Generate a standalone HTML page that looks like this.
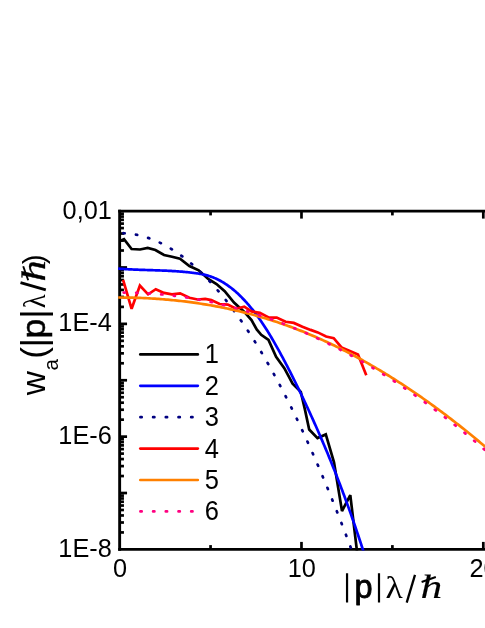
<!DOCTYPE html>
<html><head><meta charset="utf-8"><title>plot</title>
<style>html,body{margin:0;padding:0;background:#fff}svg{display:block;will-change:transform;transform:translateZ(0)}text{font-family:"Liberation Sans",sans-serif;fill:#000}.s{font-family:"Liberation Serif",serif}</style></head><body>
<svg width="485" height="628" viewBox="0 0 485 628">
<rect width="485" height="628" fill="#fff"/>
<defs><clipPath id="c"><rect x="118.2" y="209.79999999999998" width="400" height="340.79999999999995"/></clipPath></defs>
<g stroke="#000" stroke-width="2.7" fill="none" stroke-linecap="butt">
<path d="M119.65,550.75 V209.75" stroke-width="2.9"/>
<path d="M118.2,211.1 H485"/>
<path d="M118.2,549.4 H485"/>
<path d="M301.48,549.4 v-7.5"/><path d="M301.48,211.1 v7.5"/>
<path d="M483.30,549.4 v-7.5"/><path d="M483.30,211.1 v7.5"/>
<path d="M210.56,549.4 v-4.3"/><path d="M210.56,211.1 v4.3"/>
<path d="M392.39,549.4 v-4.3"/><path d="M392.39,211.1 v4.3"/>
<path d="M119.65,250.51 h4.3"/>
<path d="M119.65,240.58 h4.3"/>
<path d="M119.65,233.54 h4.3"/>
<path d="M119.65,228.07 h4.3"/>
<path d="M119.65,223.61 h4.3"/>
<path d="M119.65,219.83 h4.3"/>
<path d="M119.65,216.56 h4.3"/>
<path d="M119.65,213.68 h4.3"/>
<path d="M119.65,267.48 h7.4"/>
<path d="M119.65,306.89 h4.3"/>
<path d="M119.65,296.96 h4.3"/>
<path d="M119.65,289.92 h4.3"/>
<path d="M119.65,284.46 h4.3"/>
<path d="M119.65,279.99 h4.3"/>
<path d="M119.65,276.22 h4.3"/>
<path d="M119.65,272.95 h4.3"/>
<path d="M119.65,270.06 h4.3"/>
<path d="M119.65,323.87 h7.4"/>
<path d="M119.65,363.28 h4.3"/>
<path d="M119.65,353.35 h4.3"/>
<path d="M119.65,346.30 h4.3"/>
<path d="M119.65,340.84 h4.3"/>
<path d="M119.65,336.38 h4.3"/>
<path d="M119.65,332.60 h4.3"/>
<path d="M119.65,329.33 h4.3"/>
<path d="M119.65,326.45 h4.3"/>
<path d="M119.65,380.25 h7.4"/>
<path d="M119.65,419.66 h4.3"/>
<path d="M119.65,409.73 h4.3"/>
<path d="M119.65,402.69 h4.3"/>
<path d="M119.65,397.22 h4.3"/>
<path d="M119.65,392.76 h4.3"/>
<path d="M119.65,388.98 h4.3"/>
<path d="M119.65,385.71 h4.3"/>
<path d="M119.65,382.83 h4.3"/>
<path d="M119.65,436.63 h7.4"/>
<path d="M119.65,476.04 h4.3"/>
<path d="M119.65,466.11 h4.3"/>
<path d="M119.65,459.07 h4.3"/>
<path d="M119.65,453.61 h4.3"/>
<path d="M119.65,449.14 h4.3"/>
<path d="M119.65,445.37 h4.3"/>
<path d="M119.65,442.10 h4.3"/>
<path d="M119.65,439.21 h4.3"/>
<path d="M119.65,493.02 h7.4"/>
<path d="M119.65,532.43 h4.3"/>
<path d="M119.65,522.50 h4.3"/>
<path d="M119.65,515.45 h4.3"/>
<path d="M119.65,509.99 h4.3"/>
<path d="M119.65,505.53 h4.3"/>
<path d="M119.65,501.75 h4.3"/>
<path d="M119.65,498.48 h4.3"/>
<path d="M119.65,495.60 h4.3"/>
</g>
<g clip-path="url(#c)" fill="none" stroke-linejoin="miter" stroke-miterlimit="3">
<path d="M120,241 L124,239.2 L131.6,249 L140,249.5 L147.7,248 L155.4,250 L164,255 L172,256.7 L180,258.8 L189.4,266 L198.7,270.3 L208.2,278.9 L216.5,284 L224.7,291.2 L234,302.6 L244.3,311.9 L251.5,320.1 L256.7,329.4 L261.2,334.8 L268.5,340 L276.1,356.8 L284.3,368.1 L292.6,383.6 L300.8,391.9 L304.9,409.4 L309.2,429.5 L317.5,438.1 L325.8,434.4 L334,462.3 L342,511 L350.3,495.2 L357.2,553" stroke="#000" stroke-width="2.7"/>
<path d="M118.00,268.59 L118.99,268.67 L119.98,268.74 L120.96,268.82 L121.95,268.89 L122.94,268.96 L123.93,269.02 L124.92,269.08 L125.90,269.14 L126.89,269.20 L127.88,269.26 L128.87,269.31 L129.86,269.36 L130.84,269.41 L131.83,269.46 L132.82,269.50 L133.81,269.55 L134.80,269.59 L135.78,269.63 L136.77,269.67 L137.76,269.71 L138.75,269.75 L139.73,269.79 L140.72,269.82 L141.71,269.86 L142.70,269.89 L143.69,269.92 L144.67,269.96 L145.66,269.99 L146.65,270.02 L147.64,270.05 L148.63,270.08 L149.61,270.11 L150.60,270.15 L151.59,270.18 L152.58,270.21 L153.57,270.24 L154.55,270.27 L155.54,270.31 L156.53,270.34 L157.52,270.37 L158.51,270.41 L159.49,270.44 L160.48,270.48 L161.47,270.52 L162.46,270.56 L163.45,270.60 L164.43,270.64 L165.42,270.68 L166.41,270.72 L167.40,270.77 L168.39,270.82 L169.37,270.87 L170.36,270.92 L171.35,270.97 L172.34,271.03 L173.33,271.08 L174.31,271.14 L175.30,271.20 L176.29,271.27 L177.28,271.34 L178.27,271.41 L179.25,271.48 L180.24,271.55 L181.23,271.63 L182.22,271.71 L183.20,271.80 L184.19,271.89 L185.18,271.98 L186.17,272.07 L187.16,272.17 L188.14,272.27 L189.13,272.38 L190.12,272.49 L191.11,272.60 L192.10,272.72 L193.08,272.84 L194.07,272.97 L195.06,273.10 L196.05,273.23 L197.04,273.38 L198.02,273.53 L199.01,273.69 L200.00,273.86 L200.99,274.04 L201.98,274.24 L202.96,274.44 L203.95,274.66 L204.94,274.89 L205.93,275.13 L206.92,275.40 L207.90,275.67 L208.89,275.97 L209.88,276.28 L210.87,276.61 L211.86,276.96 L212.84,277.32 L213.83,277.71 L214.82,278.12 L215.81,278.56 L216.80,279.01 L217.78,279.48 L218.77,279.97 L219.76,280.49 L220.75,281.02 L221.73,281.58 L222.72,282.16 L223.71,282.76 L224.70,283.38 L225.69,284.02 L226.67,284.68 L227.66,285.36 L228.65,286.07 L229.64,286.79 L230.63,287.54 L231.61,288.31 L232.60,289.10 L233.59,289.91 L234.58,290.74 L235.57,291.59 L236.55,292.47 L237.54,293.37 L238.53,294.29 L239.52,295.23 L240.51,296.19 L241.49,297.17 L242.48,298.18 L243.47,299.21 L244.46,300.26 L245.45,301.33 L246.43,302.43 L247.42,303.54 L248.41,304.68 L249.40,305.84 L250.39,307.02 L251.37,308.23 L252.36,309.46 L253.35,310.71 L254.34,311.98 L255.33,313.27 L256.31,314.59 L257.30,315.93 L258.29,317.29 L259.28,318.67 L260.27,320.08 L261.25,321.51 L262.24,322.96 L263.23,324.44 L264.22,325.93 L265.20,327.45 L266.19,329.00 L267.18,330.56 L268.17,332.15 L269.16,333.76 L270.14,335.39 L271.13,337.04 L272.12,338.72 L273.11,340.41 L274.10,342.11 L275.08,343.84 L276.07,345.58 L277.06,347.34 L278.05,349.12 L279.04,350.91 L280.02,352.71 L281.01,354.53 L282.00,356.36 L282.99,358.20 L283.98,360.06 L284.96,361.92 L285.95,363.80 L286.94,365.70 L287.93,367.60 L288.92,369.52 L289.90,371.45 L290.89,373.39 L291.88,375.34 L292.87,377.31 L293.86,379.28 L294.84,381.27 L295.83,383.27 L296.82,385.28 L297.81,387.30 L298.80,389.33 L299.78,391.38 L300.77,393.43 L301.76,395.50 L302.75,397.58 L303.73,399.67 L304.72,401.76 L305.71,403.87 L306.70,405.99 L307.69,408.12 L308.67,410.27 L309.66,412.42 L310.65,414.58 L311.64,416.75 L312.63,418.93 L313.61,421.12 L314.60,423.33 L315.59,425.54 L316.58,427.77 L317.57,430.01 L318.55,432.26 L319.54,434.52 L320.53,436.80 L321.52,439.09 L322.51,441.39 L323.49,443.70 L324.48,446.03 L325.47,448.37 L326.46,450.73 L327.45,453.10 L328.43,455.49 L329.42,457.88 L330.41,460.30 L331.40,462.73 L332.39,465.17 L333.37,467.64 L334.36,470.11 L335.35,472.61 L336.34,475.12 L337.33,477.64 L338.31,480.19 L339.30,482.75 L340.29,485.33 L341.28,487.92 L342.27,490.54 L343.25,493.17 L344.24,495.82 L345.23,498.49 L346.22,501.18 L347.20,503.88 L348.19,506.61 L349.18,509.36 L350.17,512.12 L351.16,514.91 L352.14,517.72 L353.13,520.55 L354.12,523.40 L355.11,526.27 L356.10,529.16 L357.08,532.07 L358.07,535.01 L359.06,537.97 L360.05,540.95 L361.04,543.95 L362.02,546.97 L363.01,550.02 L364.00,553.10" stroke="#0000ff" stroke-width="2.7"/>
<path d="M122.60,233.20 L123.37,233.22 L124.14,233.26 L124.91,233.30 L125.68,233.35 L126.44,233.40 L127.21,233.46 L127.98,233.53 L128.75,233.61 L129.52,233.69 L130.29,233.78 L131.06,233.88 L131.83,233.99 L132.60,234.10 L133.36,234.22 L134.13,234.35 L134.90,234.48 L135.67,234.62 L136.44,234.77 L137.21,234.92 L137.98,235.09 L138.75,235.26 L139.52,235.43 L140.28,235.62 L141.05,235.81 L141.82,236.00 L142.59,236.21 L143.36,236.42 L144.13,236.64 L144.90,236.87 L145.67,237.10 L146.44,237.34 L147.20,237.59 L147.97,237.84 L148.74,238.11 L149.51,238.38 L150.28,238.65 L151.05,238.93 L151.82,239.22 L152.59,239.52 L153.36,239.83 L154.12,240.14 L154.89,240.46 L155.66,240.78 L156.43,241.12 L157.20,241.46 L157.97,241.80 L158.74,242.16 L159.51,242.52 L160.28,242.89 L161.04,243.26 L161.81,243.64 L162.58,244.03 L163.35,244.43 L164.12,244.83 L164.89,245.25 L165.66,245.66 L166.43,246.09 L167.20,246.52 L167.96,246.96 L168.73,247.41 L169.50,247.86 L170.27,248.32 L171.04,248.79 L171.81,249.26 L172.58,249.74 L173.35,250.23 L174.12,250.73 L174.88,251.23 L175.65,251.74 L176.42,252.25 L177.19,252.78 L177.96,253.31 L178.73,253.85 L179.50,254.39 L180.27,254.94 L181.04,255.50 L181.81,256.07 L182.57,256.64 L183.34,257.22 L184.11,257.81 L184.88,258.40 L185.65,259.00 L186.42,259.61 L187.19,260.23 L187.96,260.85 L188.73,261.48 L189.49,262.11 L190.26,262.76 L191.03,263.41 L191.80,264.06 L192.57,264.73 L193.34,265.40 L194.11,266.08 L194.88,266.76 L195.65,267.45 L196.41,268.15 L197.18,268.86 L197.95,269.57 L198.72,270.29 L199.49,271.02 L200.26,271.75 L201.03,272.49 L201.80,273.24 L202.57,274.00 L203.33,274.76 L204.10,275.53 L204.87,276.30 L205.64,277.09 L206.41,277.88 L207.18,278.67 L207.95,279.48 L208.72,280.29 L209.49,281.10 L210.25,281.93 L211.02,282.76 L211.79,283.60 L212.56,284.45 L213.33,285.30 L214.10,286.16 L214.87,287.02 L215.64,287.90 L216.41,288.78 L217.17,289.66 L217.94,290.56 L218.71,291.46 L219.48,292.37 L220.25,293.28 L221.02,294.20 L221.79,295.13 L222.56,296.07 L223.33,297.01 L224.09,297.96 L224.86,298.92 L225.63,299.88 L226.40,300.85 L227.17,301.83 L227.94,302.81 L228.71,303.81 L229.48,304.80 L230.25,305.81 L231.01,306.82 L231.78,307.84 L232.55,308.87 L233.32,309.90 L234.09,310.94 L234.86,311.98 L235.63,313.04 L236.40,314.10 L237.17,315.17 L237.93,316.24 L238.70,317.32 L239.47,318.41 L240.24,319.50 L241.01,320.60 L241.78,321.71 L242.55,322.83 L243.32,323.95 L244.09,325.08 L244.85,326.22 L245.62,327.36 L246.39,328.51 L247.16,329.67 L247.93,330.83 L248.70,332.00 L249.47,333.18 L250.24,334.36 L251.01,335.55 L251.77,336.75 L252.54,337.96 L253.31,339.17 L254.08,340.39 L254.85,341.61 L255.62,342.84 L256.39,344.08 L257.16,345.33 L257.93,346.58 L258.69,347.84 L259.46,349.11 L260.23,350.38 L261.00,351.66 L261.77,352.95 L262.54,354.24 L263.31,355.54 L264.08,356.85 L264.85,358.16 L265.61,359.49 L266.38,360.81 L267.15,362.15 L267.92,363.49 L268.69,364.84 L269.46,366.19 L270.23,367.56 L271.00,368.93 L271.77,370.30 L272.53,371.68 L273.30,373.07 L274.07,374.47 L274.84,375.87 L275.61,377.28 L276.38,378.70 L277.15,380.12 L277.92,381.55 L278.69,382.99 L279.45,384.43 L280.22,385.88 L280.99,387.34 L281.76,388.81 L282.53,390.28 L283.30,391.75 L284.07,393.24 L284.84,394.73 L285.61,396.23 L286.37,397.73 L287.14,399.25 L287.91,400.76 L288.68,402.29 L289.45,403.82 L290.22,405.36 L290.99,406.91 L291.76,408.46 L292.53,410.02 L293.29,411.58 L294.06,413.16 L294.83,414.74 L295.60,416.32 L296.37,417.92 L297.14,419.52 L297.91,421.12 L298.68,422.73 L299.45,424.35 L300.22,425.98 L300.98,427.62 L301.75,429.26 L302.52,430.90 L303.29,432.56 L304.06,434.22 L304.83,435.88 L305.60,437.56 L306.37,439.24 L307.14,440.93 L307.90,442.62 L308.67,444.32 L309.44,446.03 L310.21,447.74 L310.98,449.46 L311.75,451.19 L312.52,452.93 L313.29,454.67 L314.06,456.42 L314.82,458.17 L315.59,459.93 L316.36,461.70 L317.13,463.47 L317.90,465.26 L318.67,467.04 L319.44,468.84 L320.21,470.64 L320.98,472.45 L321.74,474.26 L322.51,476.09 L323.28,477.91 L324.05,479.75 L324.82,481.59 L325.59,483.44 L326.36,485.29 L327.13,487.16 L327.90,489.03 L328.66,490.90 L329.43,492.78 L330.20,494.67 L330.97,496.57 L331.74,498.47 L332.51,500.38 L333.28,502.29 L334.05,504.21 L334.82,506.14 L335.58,508.08 L336.35,510.02 L337.12,511.97 L337.89,513.92 L338.66,515.89 L339.43,517.85 L340.20,519.83 L340.97,521.81 L341.74,523.80 L342.50,525.80 L343.27,527.80 L344.04,529.81 L344.81,531.82 L345.58,533.84 L346.35,535.87 L347.12,537.91 L347.89,539.95 L348.66,542.00 L349.42,544.05 L350.19,546.11 L350.96,548.18 L351.73,550.26 L352.50,552.34" stroke="#000080" stroke-width="2.7" stroke-linecap="round" stroke-dasharray="1.30 11.30" stroke-dashoffset="-0.81"/>
<path d="M123.1,279.9 L131.6,308.8 L139.9,285.5 L148.1,294.3 L155.8,289.2 L164,292.9 L171.9,294.3 L180.1,293.3 L189.4,297.8 L197.6,299.5 L205.2,298.9 L211.3,300.1 L219.6,304 L227.8,304.6 L236.1,308.8 L244.3,306.7 L251.5,311.4 L259.8,312.9 L269.1,317.6 L276.7,317.6 L285.6,321.8 L293.8,322.9 L302.4,326.8 L310.6,329.9 L317.8,332.4 L326.1,336.5 L333.7,338.1 L341.5,347.4 L349.8,351.1 L358,354.6 L366.3,375.3" stroke="#ff0000" stroke-width="2.7"/>
<path d="M118.00,297.50 L119.85,297.51 L121.70,297.52 L123.55,297.53 L125.40,297.56 L127.25,297.58 L129.10,297.62 L130.94,297.66 L132.79,297.70 L134.64,297.75 L136.49,297.81 L138.34,297.87 L140.19,297.94 L142.04,298.01 L143.89,298.09 L145.74,298.18 L147.59,298.27 L149.44,298.37 L151.29,298.48 L153.14,298.59 L154.98,298.70 L156.83,298.83 L158.68,298.96 L160.53,299.09 L162.38,299.23 L164.23,299.38 L166.08,299.54 L167.93,299.70 L169.78,299.87 L171.63,300.04 L173.48,300.22 L175.33,300.41 L177.18,300.60 L179.03,300.80 L180.87,301.01 L182.72,301.23 L184.57,301.45 L186.42,301.68 L188.27,301.91 L190.12,302.15 L191.97,302.40 L193.82,302.66 L195.67,302.92 L197.52,303.19 L199.37,303.47 L201.22,303.75 L203.07,304.05 L204.91,304.35 L206.76,304.65 L208.61,304.97 L210.46,305.29 L212.31,305.62 L214.16,305.95 L216.01,306.30 L217.86,306.65 L219.71,307.01 L221.56,307.37 L223.41,307.75 L225.26,308.13 L227.11,308.52 L228.95,308.91 L230.80,309.32 L232.65,309.73 L234.50,310.15 L236.35,310.58 L238.20,311.02 L240.05,311.46 L241.90,311.91 L243.75,312.37 L245.60,312.84 L247.45,313.32 L249.30,313.81 L251.15,314.30 L252.99,314.80 L254.84,315.31 L256.69,315.83 L258.54,316.36 L260.39,316.89 L262.24,317.43 L264.09,317.99 L265.94,318.55 L267.79,319.12 L269.64,319.69 L271.49,320.28 L273.34,320.88 L275.19,321.48 L277.04,322.09 L278.88,322.71 L280.73,323.35 L282.58,323.98 L284.43,324.63 L286.28,325.29 L288.13,325.96 L289.98,326.63 L291.83,327.32 L293.68,328.01 L295.53,328.71 L297.38,329.42 L299.23,330.15 L301.08,330.88 L302.92,331.62 L304.77,332.36 L306.62,333.12 L308.47,333.89 L310.32,334.67 L312.17,335.45 L314.02,336.25 L315.87,337.05 L317.72,337.87 L319.57,338.69 L321.42,339.52 L323.27,340.36 L325.12,341.21 L326.96,342.07 L328.81,342.93 L330.66,343.81 L332.51,344.70 L334.36,345.59 L336.21,346.49 L338.06,347.40 L339.91,348.33 L341.76,349.25 L343.61,350.19 L345.46,351.14 L347.31,352.09 L349.16,353.06 L351.01,354.03 L352.85,355.01 L354.70,356.00 L356.55,357.00 L358.40,358.01 L360.25,359.03 L362.10,360.05 L363.95,361.08 L365.80,362.12 L367.65,363.17 L369.50,364.23 L371.35,365.30 L373.20,366.37 L375.05,367.46 L376.89,368.55 L378.74,369.65 L380.59,370.76 L382.44,371.87 L384.29,373.00 L386.14,374.13 L387.99,375.27 L389.84,376.42 L391.69,377.58 L393.54,378.74 L395.39,379.91 L397.24,381.10 L399.09,382.29 L400.93,383.48 L402.78,384.69 L404.63,385.90 L406.48,387.13 L408.33,388.36 L410.18,389.59 L412.03,390.84 L413.88,392.10 L415.73,393.36 L417.58,394.63 L419.43,395.91 L421.28,397.20 L423.13,398.49 L424.97,399.79 L426.82,401.11 L428.67,402.43 L430.52,403.75 L432.37,405.09 L434.22,406.43 L436.07,407.79 L437.92,409.15 L439.77,410.51 L441.62,411.89 L443.47,413.28 L445.32,414.67 L447.17,416.07 L449.02,417.48 L450.86,418.90 L452.71,420.32 L454.56,421.76 L456.41,423.20 L458.26,424.65 L460.11,426.10 L461.96,427.57 L463.81,429.05 L465.66,430.53 L467.51,432.02 L469.36,433.52 L471.21,435.02 L473.06,436.54 L474.90,438.06 L476.75,439.59 L478.60,441.13 L480.45,442.68 L482.30,444.23 L484.15,445.80 L486.00,447.37" stroke="#ff8000" stroke-width="2.7"/>
<path d="M120.50,292.56 L121.72,292.56 L122.94,292.56 L124.17,292.56 L125.39,292.57 L126.61,292.58 L127.83,292.59 L129.06,292.61 L130.28,292.63 L131.50,292.66 L132.72,292.69 L133.95,292.72 L135.17,292.76 L136.39,292.80 L137.61,292.84 L138.84,292.89 L140.06,292.94 L141.28,292.99 L142.50,293.05 L143.73,293.11 L144.95,293.17 L146.17,293.24 L147.39,293.32 L148.62,293.39 L149.84,293.47 L151.06,293.55 L152.28,293.64 L153.51,293.73 L154.73,293.83 L155.95,293.92 L157.17,294.02 L158.39,294.13 L159.62,294.24 L160.84,294.35 L162.06,294.46 L163.28,294.58 L164.51,294.71 L165.73,294.83 L166.95,294.96 L168.17,295.10 L169.40,295.23 L170.62,295.37 L171.84,295.52 L173.06,295.67 L174.29,295.82 L175.51,295.97 L176.73,296.13 L177.95,296.30 L179.18,296.46 L180.40,296.63 L181.62,296.80 L182.84,296.98 L184.07,297.16 L185.29,297.35 L186.51,297.53 L187.73,297.72 L188.95,297.92 L190.18,298.12 L191.40,298.32 L192.62,298.53 L193.84,298.73 L195.07,298.95 L196.29,299.16 L197.51,299.38 L198.73,299.61 L199.96,299.83 L201.18,300.07 L202.40,300.30 L203.62,300.54 L204.85,300.78 L206.07,301.02 L207.29,301.27 L208.51,301.53 L209.74,301.78 L210.96,302.04 L212.18,302.30 L213.40,302.57 L214.63,302.84 L215.85,303.11 L217.07,303.39 L218.29,303.67 L219.52,303.96 L220.74,304.25 L221.96,304.54 L223.18,304.83 L224.40,305.13 L225.63,305.43 L226.85,305.74 L228.07,306.05 L229.29,306.36 L230.52,306.68 L231.74,307.00 L232.96,307.33 L234.18,307.65 L235.41,307.98 L236.63,308.32 L237.85,308.66 L239.07,309.00 L240.30,309.34 L241.52,309.69 L242.74,310.05 L243.96,310.40 L245.19,310.76 L246.41,311.13 L247.63,311.49 L248.85,311.86 L250.08,312.24 L251.30,312.62 L252.52,313.00 L253.74,313.38 L254.96,313.77 L256.19,314.16 L257.41,314.56 L258.63,314.96 L259.85,315.36 L261.08,315.77 L262.30,316.18 L263.52,316.59 L264.74,317.01 L265.97,317.43 L267.19,317.85 L268.41,318.28 L269.63,318.71 L270.86,319.14 L272.08,319.58 L273.30,320.03 L274.52,320.47 L275.75,320.92 L276.97,321.37 L278.19,321.83 L279.41,322.29 L280.64,322.75 L281.86,323.22 L283.08,323.69 L284.30,324.16 L285.53,324.64 L286.75,325.12 L287.97,325.61 L289.19,326.10 L290.41,326.59 L291.64,327.08 L292.86,327.58 L294.08,328.09 L295.30,328.59 L296.53,329.10 L297.75,329.61 L298.97,330.13 L300.19,330.65 L301.42,331.18 L302.64,331.70 L303.86,332.23 L305.08,332.77 L306.31,333.31 L307.53,333.85 L308.75,334.39 L309.97,334.94 L311.20,335.50 L312.42,336.05 L313.64,336.61 L314.86,337.17 L316.09,337.74 L317.31,338.31 L318.53,338.88 L319.75,339.46 L320.97,340.04 L322.20,340.63 L323.42,341.21 L324.64,341.81 L325.86,342.40 L327.09,343.00 L328.31,343.60 L329.53,344.21 L330.75,344.82 L331.98,345.43 L333.20,346.05 L334.42,346.67 L335.64,347.29 L336.87,347.92 L338.09,348.55 L339.31,349.18 L340.53,349.82 L341.76,350.46 L342.98,351.10 L344.20,351.75 L345.42,352.40 L346.65,353.06 L347.87,353.72 L349.09,354.38 L350.31,355.05 L351.54,355.72 L352.76,356.39 L353.98,357.07 L355.20,357.75 L356.42,358.43 L357.65,359.12 L358.87,359.81 L360.09,360.50 L361.31,361.20 L362.54,361.90 L363.76,362.61 L364.98,363.31 L366.20,364.03 L367.43,364.74 L368.65,365.46 L369.87,366.18 L371.09,366.91 L372.32,367.64 L373.54,368.37 L374.76,369.11 L375.98,369.85 L377.21,370.59 L378.43,371.34 L379.65,372.09 L380.87,372.85 L382.10,373.60 L383.32,374.36 L384.54,375.13 L385.76,375.90 L386.98,376.67 L388.21,377.45 L389.43,378.22 L390.65,379.01 L391.87,379.79 L393.10,380.58 L394.32,381.38 L395.54,382.17 L396.76,382.97 L397.99,383.78 L399.21,384.58 L400.43,385.39 L401.65,386.21 L402.88,387.03 L404.10,387.85 L405.32,388.67 L406.54,389.50 L407.77,390.33 L408.99,391.17 L410.21,392.01 L411.43,392.85 L412.66,393.70 L413.88,394.55 L415.10,395.40 L416.32,396.26 L417.55,397.12 L418.77,397.98 L419.99,398.85 L421.21,399.72 L422.43,400.59 L423.66,401.47 L424.88,402.35 L426.10,403.23 L427.32,404.12 L428.55,405.01 L429.77,405.91 L430.99,406.81 L432.21,407.71 L433.44,408.62 L434.66,409.53 L435.88,410.44 L437.10,411.35 L438.33,412.27 L439.55,413.20 L440.77,414.12 L441.99,415.05 L443.22,415.99 L444.44,416.93 L445.66,417.87 L446.88,418.81 L448.11,419.76 L449.33,420.71 L450.55,421.67 L451.77,422.62 L452.99,423.59 L454.22,424.55 L455.44,425.52 L456.66,426.49 L457.88,427.47 L459.11,428.45 L460.33,429.43 L461.55,430.42 L462.77,431.41 L464.00,432.40 L465.22,433.40 L466.44,434.40 L467.66,435.40 L468.89,436.41 L470.11,437.42 L471.33,438.43 L472.55,439.45 L473.78,440.47 L475.00,441.50 L476.22,442.53 L477.44,443.56 L478.67,444.59 L479.89,445.63 L481.11,446.68 L482.33,447.72 L483.56,448.77 L484.78,449.82 L486.00,450.88" stroke="#ff0080" stroke-width="2.7" stroke-linecap="round" stroke-dasharray="1.30 11.23" stroke-dashoffset="-3.14"/>
</g>
<text transform="translate(111.8,218.6) scale(1,1.05)" font-size="25.3" text-anchor="end">0,01</text>
<text transform="translate(111.8,331.4) scale(1,1.05)" font-size="25.3" text-anchor="end">1E-4</text>
<text transform="translate(111.8,444.1) scale(1,1.05)" font-size="25.3" text-anchor="end">1E-6</text>
<text transform="translate(111.8,556.9) scale(1,1.05)" font-size="25.3" text-anchor="end">1E-8</text>
<text transform="translate(120.0,577.2) scale(1,1.05)" font-size="25.3" text-anchor="middle">0</text>
<text transform="translate(301.8,577.2) scale(1,1.05)" font-size="25.3" text-anchor="middle">10</text>
<text transform="translate(483.6,577.2) scale(1,1.05)" font-size="25.3" text-anchor="middle">20</text>
<path d="M140.3,354.4 H197.8" stroke="#000" stroke-width="2.7" stroke-linecap="round" fill="none"/>
<text transform="translate(204.7,363.4) scale(1,1.05)" font-size="25.5">1</text>
<path d="M140.3,385.8 H197.8" stroke="#0000ff" stroke-width="2.7" stroke-linecap="round" fill="none"/>
<text transform="translate(204.7,394.8) scale(1,1.05)" font-size="25.5">2</text>
<path d="M140.3,417.2 H197.8" stroke="#000080" stroke-width="2.7" stroke-linecap="round" fill="none" stroke-dasharray="1.3 11.4" stroke-dashoffset="-0.1"/>
<text transform="translate(204.7,426.2) scale(1,1.05)" font-size="25.5">3</text>
<path d="M140.3,448.6 H197.8" stroke="#ff0000" stroke-width="2.7" stroke-linecap="round" fill="none"/>
<text transform="translate(204.7,457.6) scale(1,1.05)" font-size="25.5">4</text>
<path d="M140.3,480.0 H197.8" stroke="#ff8000" stroke-width="2.7" stroke-linecap="round" fill="none"/>
<text transform="translate(204.7,489.0) scale(1,1.05)" font-size="25.5">5</text>
<path d="M140.3,511.4 H197.8" stroke="#ff0080" stroke-width="2.7" stroke-linecap="round" fill="none" stroke-dasharray="1.3 11.4" stroke-dashoffset="-0.1"/>
<text transform="translate(204.7,520.4) scale(1,1.05)" font-size="25.5">6</text>
<path d="M347.05,573.2 V602.6 M379,573.2 V602.6" stroke="#000" stroke-width="2.2" fill="none"/>
<text x="354.5" y="597.8" font-size="32.5" stroke="#000" stroke-width="0.85" stroke-linejoin="round">p</text>
<text class="s" transform="translate(385.4,597.5) scale(1.13,1)" font-size="31.5">λ</text>
<path d="M406.7,602.6 L415,574.9" stroke="#000" stroke-width="2.3" fill="none"/>
<text class="s" transform="translate(420.6,598.3) scale(1.32,1)" font-size="33" font-style="italic" stroke="#000" stroke-width="0.12">h</text>
<path d="M421.6,582 L435.8,577" stroke="#000" stroke-width="1.9" fill="none"/>
<g transform="translate(45.2,396) rotate(-90)">
<text x="0.8" y="0" font-size="33.5">w</text>
<text x="25.5" y="13.2" font-size="20.5">a</text>
<text x="37.3" y="0.8" font-size="35">(</text>
<text x="48.8" y="1.1" font-size="35">|</text>
<text transform="translate(57.6,0) scale(1.06,1)" font-size="33.5" stroke="#000" stroke-width="0.5">p</text>
<text x="77.5" y="1.1" font-size="35">|</text>
<text class="s" transform="translate(87.8,0) scale(0.88,1)" font-size="32.5">λ</text>
<path d="M106.2,0.6 L113.4,-24.7" stroke="#000" stroke-width="2.8" fill="none"/>
<text class="s" transform="translate(114.6,0) scale(1.25,1)" font-size="34" font-style="italic" stroke="#000" stroke-width="0.3">h</text>
<path d="M115.8,-17 L129.8,-22" stroke="#000" stroke-width="1.9" fill="none"/>
<text x="131.8" y="-1.6" font-size="30">)</text>
</g>
</svg></body></html>
